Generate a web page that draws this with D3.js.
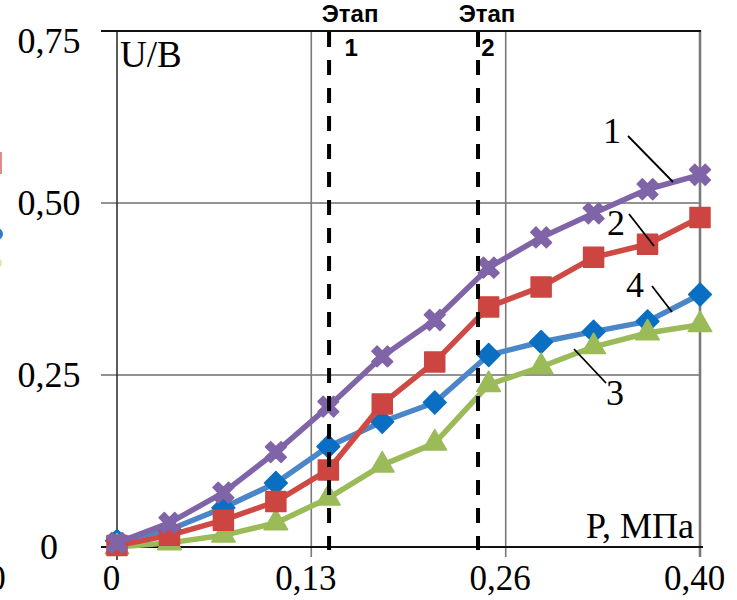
<!DOCTYPE html>
<html>
<head>
<meta charset="utf-8">
<script src="https://cdn.jsdelivr.net/npm/d3@7"></script>
<style>
  html, body { margin: 0; padding: 0; background: #fff; }
  svg { display: block; }
</style>
</head>
<body>
<div id="chart"></div>
<script>
// pressure, MPa
var pressure = [0, 0.036, 0.073, 0.109, 0.145, 0.182, 0.218, 0.255, 0.291, 0.327, 0.364, 0.40];

// U/B for each curve
var curve1 = [0.006, 0.035, 0.079, 0.138, 0.204, 0.277, 0.330, 0.406, 0.450, 0.485, 0.520, 0.541];
var curve2 = [0.002, 0.017, 0.039, 0.066, 0.112, 0.208, 0.269, 0.349, 0.378, 0.421, 0.440, 0.479];
var curve3 = [0.000, 0.006, 0.017, 0.035, 0.071, 0.119, 0.151, 0.236, 0.262, 0.291, 0.311, 0.323];
var curve4 = [0.009, 0.025, 0.057, 0.093, 0.146, 0.182, 0.210, 0.279, 0.298, 0.313, 0.328, 0.367];

var xTicks = [0, 0.1333, 0.2667, 0.40];
var xTickLabels = ['0', '0,13', '0,26', '0,40'];
var yTicks = [0, 0.25, 0.50, 0.75];
var yTickLabels = ['0', '0,25', '0,50', '0,75'];

var stages = [0.1455, 0.2477];
var stageLabels = ['1', '2'];

var width = 737, height = 600;

var svg = d3.select('#chart').append('svg')
    .attr('width', width)
    .attr('height', height);

var x = d3.scaleLinear().domain([0, 0.40]).range([117, 700]);
var y = d3.scaleLinear().domain([0, 0.75]).range([547, 31]);

var serif = '"Liberation Serif", "Times New Roman", serif';

// horizontal grid lines
svg.selectAll('line.hgrid')
    .data([0.25, 0.50])
    .enter().append('line')
    .attr('class', 'hgrid')
    .attr('x1', 101).attr('x2', x(0.40))
    .attr('y1', function(d) { return y(d); })
    .attr('y2', function(d) { return y(d); })
    .attr('stroke', '#6e6e6e')
    .attr('stroke-width', 1.6);

// vertical grid lines, running past the axis as ticks
svg.selectAll('line.vgrid')
    .data(xTicks)
    .enter().append('line')
    .attr('class', 'vgrid')
    .attr('x1', function(d) { return x(d); })
    .attr('x2', function(d) { return x(d); })
    .attr('y1', y(0.75))
    .attr('y2', function(d, i) { return i === 0 ? 560 : 557; })
    .attr('stroke', function(d, i) { return i === 0 ? '#333' : '#7a7a7a'; })
    .attr('stroke-width', function(d, i) { return i === xTicks.length - 1 ? 2.6 : 1.6; });

// top border and x axis line
svg.append('line')
    .attr('x1', 101).attr('x2', x(0.40) + 1)
    .attr('y1', y(0.75)).attr('y2', y(0.75))
    .attr('stroke', '#111').attr('stroke-width', 2.2);
svg.append('line')
    .attr('x1', 101).attr('x2', x(0.40) + 3)
    .attr('y1', y(0)).attr('y2', y(0))
    .attr('stroke', '#111').attr('stroke-width', 2.2);

// x tick labels
var xAxis = d3.axisBottom(x)
    .tickValues(xTicks)
    .tickSize(0)
    .tickFormat(function(d, i) { return xTickLabels[i]; });
var gx = svg.append('g')
    .attr('transform', 'translate(-6,0)')
    .call(xAxis);
gx.select('.domain').remove();
gx.selectAll('text')
    .attr('y', 590)
    .attr('dy', 0)
    .attr('fill', '#000')
    .style('font-family', serif)
    .style('font-size', '35px');

// y tick labels
svg.selectAll('text.ytick')
    .data(yTicks)
    .enter().append('text')
    .attr('class', 'ytick')
    .attr('x', 49)
    .attr('y', function(d) { return d === 0.75 ? y(d) + 22 : y(d) + 12; })
    .attr('text-anchor', 'middle')
    .style('font-family', serif)
    .style('font-size', '36px')
    .text(function(d, i) { return yTickLabels[i]; });

// axis titles
svg.append('text')
    .attr('x', 120).attr('y', 67)
    .style('font-family', serif).style('font-size', '37px')
    .text('U/B');
svg.append('text')
    .attr('x', 694).attr('y', 538)
    .attr('text-anchor', 'end')
    .style('font-family', serif).style('font-size', '36px')
    .text('P, МПа');

// bits of the neighbouring chart, clipped at the left edge
svg.append('text')
    .attr('x', -3).attr('y', 590)
    .attr('text-anchor', 'middle')
    .style('font-family', serif).style('font-size', '35px')
    .text('0');
svg.append('rect').attr('x', -8).attr('y', 152).attr('width', 10).attr('height', 22)
    .attr('fill', '#e08c88');
svg.append('circle').attr('cx', -3).attr('cy', 234).attr('r', 6).attr('fill', '#2f7cc4');
svg.append('circle').attr('cx', -3).attr('cy', 263).attr('r', 5).attr('fill', '#e2e6a8');

// series
var series = [
    { name: '4', values: curve4, line: '#4a86c8', fill: '#0a6fc2', symbol: d3.symbolSquare, size: 260, rot: 45 },
    { name: '3', values: curve3, line: '#9bbb59', fill: '#9bbb59', symbol: d3.symbolTriangle, size: 240, rot: 0 },
    { name: '2', values: curve2, line: '#cf4a45', fill: '#cc4540', symbol: d3.symbolSquare, size: 400, rot: 0 },
    { name: '1', values: curve1, line: '#8064a8', fill: '#8064a8', symbol: d3.symbolCross, size: 270, rot: 45 }
];

var line = d3.line()
    .x(function(d) { return x(d[0]); })
    .y(function(d) { return y(d[1]); });

series.forEach(function(s) {
    var pts = pressure.map(function(p, i) { return [p, s.values[i]]; });
    var g = svg.append('g');
    g.append('path')
        .datum(pts)
        .attr('d', line)
        .attr('fill', 'none')
        .attr('stroke', s.line)
        .attr('stroke-width', 5.5)
        .attr('stroke-linejoin', 'round');
    g.selectAll('path.mk')
        .data(pts)
        .enter().append('path')
        .attr('class', 'mk')
        .attr('d', d3.symbol().type(s.symbol).size(s.size))
        .attr('transform', function(d) {
            return 'translate(' + x(d[0]) + ',' + y(d[1]) + ') rotate(' + s.rot + ')';
        })
        .attr('fill', s.fill)
        .attr('stroke', s.fill)
        .attr('stroke-width', 1.5)
        .attr('stroke-linejoin', 'round');
});

// curve numbers with leader lines
var callouts = [
    { label: '1', tx: 612, ty: 143, x1: 628, y1: 136, x2: 673, y2: 182 },
    { label: '2', tx: 616, ty: 235, x1: 629, y1: 214, x2: 654, y2: 246 },
    { label: '4', tx: 635, ty: 297, x1: 652, y1: 286, x2: 672, y2: 312 },
    { label: '3', tx: 615, ty: 405, x1: 574, y1: 349, x2: 606, y2: 383 }
];
svg.selectAll('line.leader')
    .data(callouts)
    .enter().append('line')
    .attr('class', 'leader')
    .attr('x1', function(d) { return d.x1; })
    .attr('y1', function(d) { return d.y1; })
    .attr('x2', function(d) { return d.x2; })
    .attr('y2', function(d) { return d.y2; })
    .attr('stroke', '#000')
    .attr('stroke-width', 1.8);
svg.selectAll('text.callout')
    .data(callouts)
    .enter().append('text')
    .attr('class', 'callout')
    .attr('x', function(d) { return d.tx; })
    .attr('y', function(d) { return d.ty; })
    .attr('text-anchor', 'middle')
    .style('font-family', serif)
    .style('font-size', '36px')
    .text(function(d) { return d.label; });

// stage boundaries
svg.selectAll('line.stage')
    .data(stages)
    .enter().append('line')
    .attr('class', 'stage')
    .attr('x1', function(d) { return x(d); })
    .attr('x2', function(d) { return x(d); })
    .attr('y1', y(0.75) + 1)
    .attr('y2', y(0) + 3)
    .attr('stroke', '#000')
    .attr('stroke-width', 4)
    .attr('stroke-dasharray', '15,13');

var sans = '"Liberation Sans", Arial, sans-serif';
svg.selectAll('text.stageTitle')
    .data(stages)
    .enter().append('text')
    .attr('class', 'stageTitle')
    .attr('x', function(d, i) { return x(d) + (i === 0 ? 21 : 9); })
    .attr('y', 22)
    .attr('text-anchor', 'middle')
    .style('font-family', sans)
    .style('font-weight', 'bold')
    .style('font-size', '24px')
    .text('Этап');
svg.selectAll('text.stageNum')
    .data(stages)
    .enter().append('text')
    .attr('class', 'stageNum')
    .attr('x', function(d, i) { return x(d) + (i === 0 ? 22 : 10); })
    .attr('y', 56)
    .attr('text-anchor', 'middle')
    .style('font-family', sans)
    .style('font-weight', 'bold')
    .style('font-size', '24px')
    .text(function(d, i) { return stageLabels[i]; });
</script>
</body>
</html>
